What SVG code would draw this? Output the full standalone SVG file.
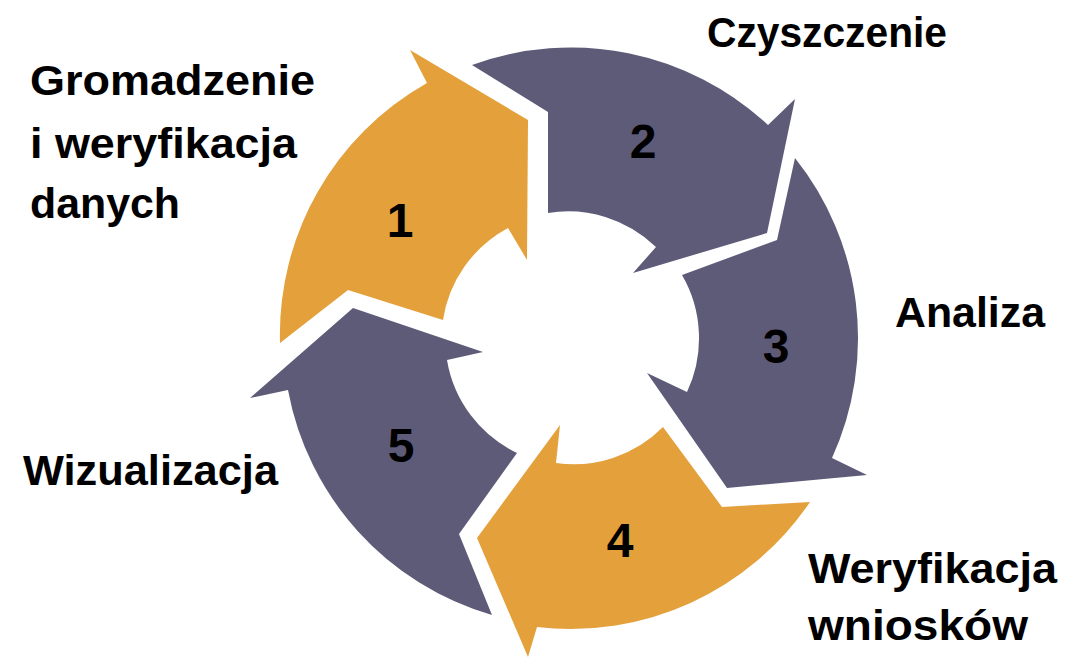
<svg xmlns="http://www.w3.org/2000/svg" width="1066" height="664" viewBox="0 0 1066 664">
  <style>
    .orange { fill: #E3A03B; }
    .purple { fill: #5E5B79; }
    .num { font-family: "Liberation Sans", Arial, sans-serif; font-weight: bold; font-size: 48px; fill: #000; text-anchor: middle; }
    .lbl { font-family: "Liberation Sans", Arial, sans-serif; font-weight: bold; font-size: 42px; fill: #000; }
  </style>
  <rect width="1066" height="664" fill="#FFFFFF"/>

  <g id="node1">
    <path class="orange" d="M280,343 A289,289 0 0 1 427,83 L410,50 L528,120 L527,260 L508,228 A126,126 0 0 0 443,320 L348,290 Z"/>
    <text class="num" x="400" y="237">1</text>
    <text class="lbl" x="30" y="95" textLength="285" lengthAdjust="spacingAndGlyphs">Gromadzenie</text>
    <text class="lbl" x="30" y="158" textLength="267" lengthAdjust="spacingAndGlyphs">i weryfikacja</text>
    <text class="lbl" x="30" y="218" textLength="150" lengthAdjust="spacingAndGlyphs">danych</text>
  </g>

  <g id="node2">
    <path class="purple" d="M472,65 A289,289 0 0 1 768,125 L795,99 L767,233 L633,273 L656,247 A126,126 0 0 0 548,213 L548,112 Z"/>
    <text class="num" x="643" y="158">2</text>
    <text class="lbl" x="707" y="47" textLength="240" lengthAdjust="spacingAndGlyphs">Czyszczenie</text>
  </g>

  <g id="node3">
    <path class="purple" d="M795,158 A289,289 0 0 1 832,458 L867,475 L727,488 L647,373 L687,392 A126,126 0 0 0 682,275 L777,240 Z"/>
    <text class="num" x="776" y="363">3</text>
    <text class="lbl" x="895" y="327" textLength="150" lengthAdjust="spacingAndGlyphs">Analiza</text>
  </g>

  <g id="node4">
    <path class="orange" d="M810,502 A289,289 0 0 1 537,627 L528,657 L477,538 L560,425 L556,463 A126,126 0 0 0 663,427 L722,507 Z"/>
    <text class="num" x="620" y="557">4</text>
    <text class="lbl" x="808" y="583" textLength="249" lengthAdjust="spacingAndGlyphs">Weryfikacja</text>
    <text class="lbl" x="808" y="640" textLength="220" lengthAdjust="spacingAndGlyphs">wniosków</text>
  </g>

  <g id="node5">
    <path class="purple" d="M492,615 A289,289 0 0 1 288,390 L250,398 L353,308 L483,352 L447,360 A126,126 0 0 0 517,453 L459,534 Z"/>
    <text class="num" x="401" y="462">5</text>
    <text class="lbl" x="23" y="485" textLength="255" lengthAdjust="spacingAndGlyphs">Wizualizacja</text>
  </g>
</svg>
